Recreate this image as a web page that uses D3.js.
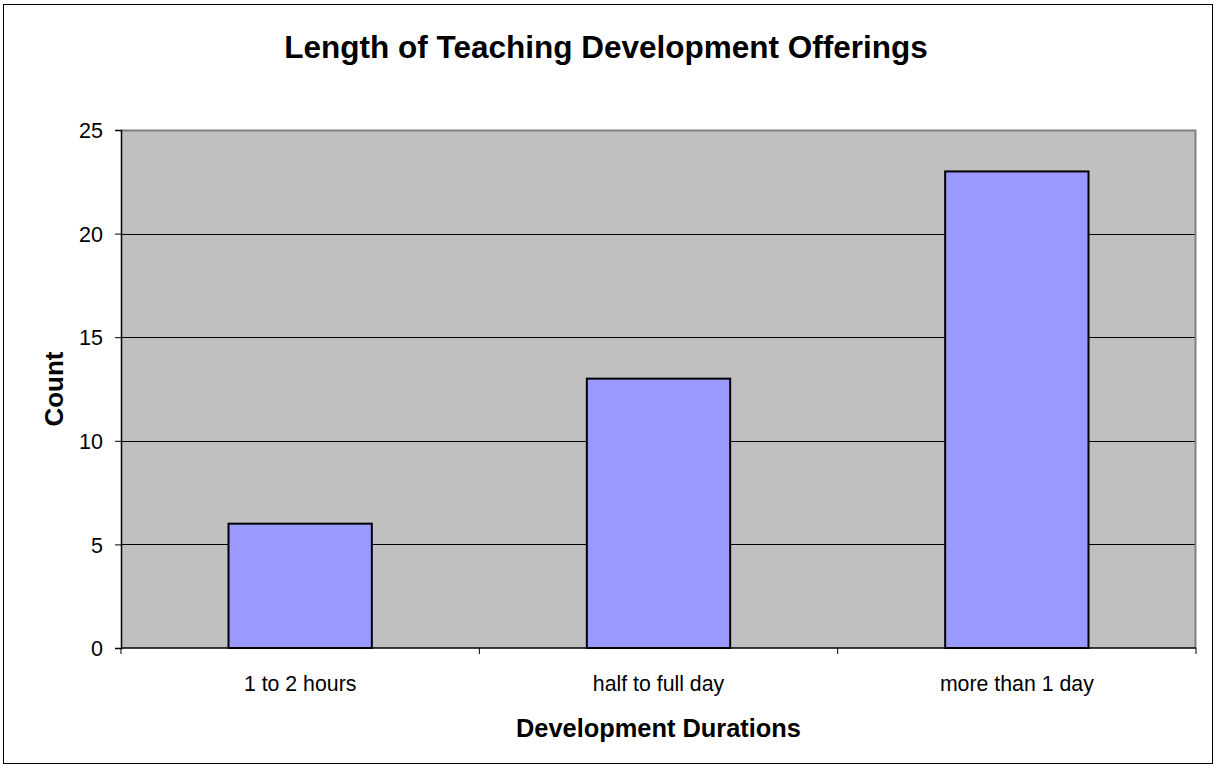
<!DOCTYPE html>
<html><head><meta charset="utf-8">
<script src="https://cdn.jsdelivr.net/npm/d3@7"></script>
<style>body{margin:0;background:#fff}svg{display:block}text{font-family:"Liberation Sans",Arial,sans-serif}</style>
</head><body>
<svg id="c" width="1217" height="768"></svg>
<script>
const categories = ["1 to 2 hours", "half to full day", "more than 1 day"];
const counts = [6, 13, 23];
const yTicks = [0, 5, 10, 15, 20, 25];
const title = "Length of Teaching Development Offerings";
const xTitle = "Development Durations";
const yTitle = "Count";

const svg = d3.select("#c");
const W = 1217, H = 768;
const m = {l: 121, r: 21, t: 130, b: 120};
const pw = W - m.l - m.r, ph = H - m.t - m.b;

svg.append("rect").attr("x", 3.5).attr("y", 4.5).attr("width", W - 8).attr("height", H - 9)
  .attr("fill", "#fff").attr("stroke", "#000").attr("stroke-width", 1);

const x = d3.scaleBand().domain(categories).range([m.l, m.l + pw]).paddingInner(0.6).paddingOuter(0.3);
const y = d3.scaleLinear().domain([0, 25]).range([m.t + ph, m.t]);

svg.append("rect").attr("x", m.l).attr("y", m.t).attr("width", pw).attr("height", ph).attr("fill", "#c0c0c0");

svg.append("g").selectAll("line").data(yTicks.filter(d => d > 0 && d < 25)).join("line")
  .attr("x1", m.l).attr("x2", m.l + pw).attr("y1", d => Math.round(y(d)) + 0.5).attr("y2", d => Math.round(y(d)) + 0.5)
  .attr("stroke", "#000").attr("stroke-width", 1);

svg.append("path").attr("d", `M${m.l},${m.t + 0.5}H${m.l + pw - 0.5}V${m.t + ph}`)
  .attr("fill", "none").attr("stroke", "#808080").attr("stroke-width", 2);

svg.append("g").selectAll("rect").data(counts).join("rect")
  .attr("x", (d, i) => x(categories[i])).attr("width", x.bandwidth())
  .attr("y", d => y(d)).attr("height", d => y(0) - y(d))
  .attr("fill", "#9999ff").attr("stroke", "#000").attr("stroke-width", 2);

const ya = svg.append("g").attr("transform", `translate(${m.l},0)`)
  .call(d3.axisLeft(y).tickValues(yTicks).tickSize(6).tickPadding(12));
ya.select(".domain").attr("stroke", "#000").attr("stroke-width", 1.5);
ya.selectAll("text").attr("font-size", 21.5).attr("fill", "#000").attr("dy", "0.36em")
  .attr("font-family", '"Liberation Sans",Arial,sans-serif');

const bounds = [0, 1, 2, 3].map(i => m.l + pw * i / 3);
const xa = svg.append("g");
xa.append("line").attr("x1", m.l).attr("x2", m.l + pw).attr("y1", y(0)).attr("y2", y(0)).attr("stroke", "#000").attr("stroke-width", 1.5);
xa.selectAll("line.t").data(bounds).join("line").attr("class", "t")
  .attr("x1", d => d).attr("x2", d => d).attr("y1", y(0)).attr("y2", y(0) + 6).attr("stroke", "#000");
xa.selectAll("text").data(categories).join("text")
  .attr("x", d => x(d) + x.bandwidth() / 2).attr("y", 691)
  .attr("text-anchor", "middle").attr("font-size", 21.3).text(d => d);

svg.append("text").attr("x", 606).attr("y", 58).attr("text-anchor", "middle")
  .attr("font-size", 31.5).attr("font-weight", "bold").text(title);
svg.append("text").attr("x", m.l + pw / 2).attr("y", 737).attr("text-anchor", "middle")
  .attr("font-size", 25.4).attr("font-weight", "bold").text(xTitle);
svg.append("text").attr("transform", `translate(63,${m.t + ph / 2}) rotate(-90)`).attr("text-anchor", "middle")
  .attr("font-size", 26).attr("font-weight", "bold").text(yTitle);
</script>
</body></html>
